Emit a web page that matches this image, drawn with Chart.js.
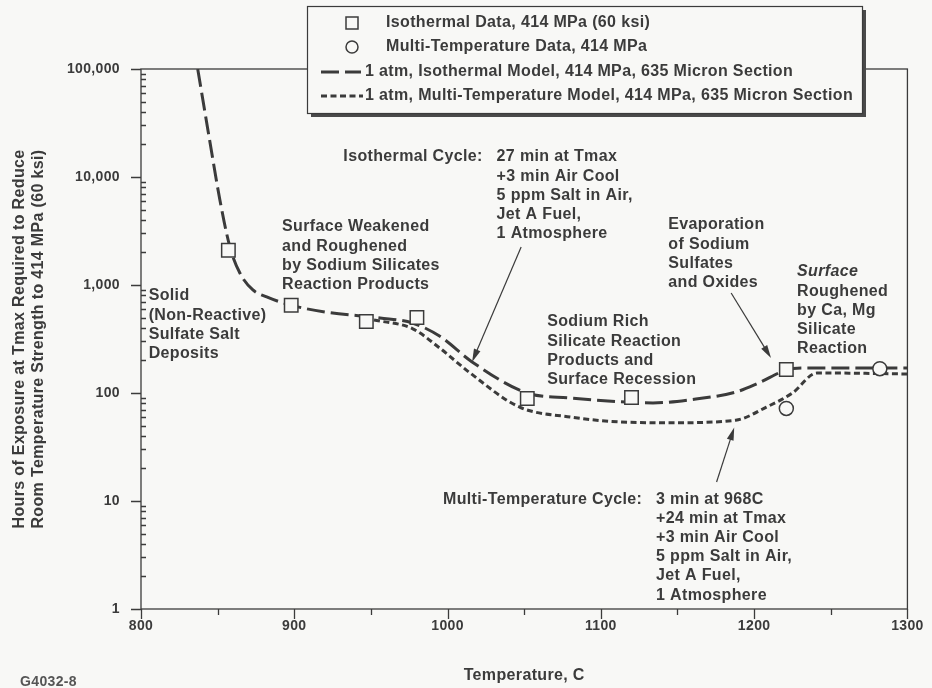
<!DOCTYPE html>
<html>
<head>
<meta charset="utf-8">
<script src="https://cdn.jsdelivr.net/npm/chart.js@4.4.1/dist/chart.umd.min.js"></script>
<style>
  html, body { margin: 0; padding: 0; background: #f8f8f6; }
  #wrap { width: 932px; height: 688px; position: relative; }
</style>
</head>
<body>
<div id="wrap"><canvas id="lifeChart"></canvas></div>
<script>
// Test points, hours to reduce strength to 414 MPa
const isoDataTemps = [857, 898, 947, 980, 1052, 1120, 1221];
const isoDataHours = [2100, 650, 460, 500, 89, 91, 165];
const multiDataTemps = [1221, 1282];
const multiDataHours = [72, 168];

// Model curves (1 atm, 635 micron section)
const isoModelTemps = [837, 845, 851.5, 858, 864.5, 873, 882, 897, 921, 956, 977, 995, 1016, 1052, 1080, 1112, 1134, 1162, 1188, 1203, 1221, 1232, 1300];
const isoModelHours = [100000, 21000, 6100, 2250, 1290, 900, 775, 655, 560, 495, 445, 335, 194, 100, 90, 83, 81, 88, 102, 124, 163, 170, 170];
const multiModelTemps = [952, 977, 995, 1014, 1047, 1080, 1112, 1145, 1188, 1208, 1225, 1241, 1251, 1300];
const multiModelHours = [475, 395, 260, 156, 74, 60, 54, 53, 56, 74, 100, 153, 153, 150];

// Axis ticks
const xTicks = [800, 900, 1000, 1100, 1200, 1300];
const xTickLabels = ['800', '900', '1000', '1100', '1200', '1300'];
const yTicks = [1, 10, 100, 1000, 10000, 100000];
const yTickLabels = ['1', '10', '100', '1,000', '10,000', '100,000'];

const ink = '#3b3b3b';
const paper = '#f8f8f6';
const family = "'Liberation Sans', Arial, Helvetica, sans-serif";
const lineGap = 19.2;

// Text notes, anchored at [temperature, hours]
const notes = [
  { at: [805, 790], lines: ['Solid', '(Non-Reactive)', 'Sulfate Salt', 'Deposits'] },
  { at: [892, 3440], lines: ['Surface Weakened', 'and Roughened', 'by Sodium Silicates', 'Reaction Products'] },
  { at: [932, 15300], lines: ['Isothermal Cycle:'] },
  { at: [1032, 15300], lines: ['27 min at Tmax', '+3 min Air Cool', '5 ppm Salt in Air,', 'Jet A Fuel,', '1 Atmosphere'] },
  { at: [1065, 454], lines: ['Sodium Rich', 'Silicate Reaction', 'Products and', 'Surface Recession'] },
  { at: [1144, 3590], lines: ['Evaporation', 'of Sodium', 'Sulfates', 'and Oxides'] },
  { at: [1228, 1320], lines: ['Surface', 'Roughened', 'by Ca, Mg', 'Silicate', 'Reaction'], italic: [0] },
  { at: [997, 10.4], lines: ['Multi-Temperature Cycle:'] },
  { at: [1136, 10.4], lines: ['3 min at 968C', '+24 min at Tmax', '+3 min Air Cool', '5 ppm Salt in Air,', 'Jet A Fuel,', '1 Atmosphere'] }
];

const arrows = [
  { from: [1048, 2250], to: [1016, 194] },
  { from: [1185, 843], to: [1211, 211] },
  { from: [1175.5, 15], to: [1187, 48] }
];

function xy(temps, hours) {
  return temps.map((t, i) => ({ x: t, y: hours[i] }));
}

const isoDash = [18, 6];
const multiDash = [6, 3.5];

// background; the lettering in this figure runs a little wide
const paperPlugin = {
  id: 'paper',
  beforeDraw(chart) {
    const c = chart.ctx;
    c.save();
    c.fillStyle = paper;
    c.fillRect(0, 0, chart.width, chart.height);
    c.restore();
    c.letterSpacing = '0.35px';
  }
};

// plot frame and tick marks
const framePlugin = {
  id: 'frame',
  beforeDatasetsDraw(chart) {
    const c = chart.ctx;
    const a = chart.chartArea;
    const xs = chart.scales.x, ys = chart.scales.y;
    c.save();
    c.strokeStyle = ink;
    c.lineWidth = 1.3;
    c.strokeRect(a.left, a.top, a.right - a.left, a.bottom - a.top);
    c.beginPath();
    for (let t = 800; t <= 1300; t += 50) {
      const px = Math.round(xs.getPixelForValue(t)) + 0.5;
      c.moveTo(px, a.bottom);
      c.lineTo(px, a.bottom + (t % 100 === 0 ? 10 : 6));
    }
    for (let d = 0; d < 5; d++) {
      for (let m = 1; m <= 9; m++) {
        const py = Math.round(ys.getPixelForValue(m * Math.pow(10, d))) + 0.5;
        if (m === 1) {
          c.moveTo(a.left - 10, py); c.lineTo(a.left, py);
        } else {
          c.moveTo(a.left, py); c.lineTo(a.left + 5, py);
        }
      }
    }
    const topY = Math.round(ys.getPixelForValue(100000)) + 0.5;
    c.moveTo(a.left - 10, topY); c.lineTo(a.left, topY);
    c.stroke();
    c.restore();
  }
};

function drawArrow(c, x1, y1, x2, y2) {
  const ang = Math.atan2(y2 - y1, x2 - x1);
  const len = 13, half = 3.5;
  c.beginPath();
  c.moveTo(x1, y1);
  c.lineTo(x2 - Math.cos(ang) * len * 0.8, y2 - Math.sin(ang) * len * 0.8);
  c.stroke();
  c.beginPath();
  c.moveTo(x2, y2);
  c.lineTo(x2 - Math.cos(ang) * len - Math.sin(ang) * half, y2 - Math.sin(ang) * len + Math.cos(ang) * half);
  c.lineTo(x2 - Math.cos(ang) * len + Math.sin(ang) * half, y2 - Math.sin(ang) * len - Math.cos(ang) * half);
  c.closePath();
  c.fill();
}

// notes, arrows, boxed key and drawing number
const notesPlugin = {
  id: 'notes',
  afterDraw(chart) {
    const c = chart.ctx;
    const xs = chart.scales.x, ys = chart.scales.y;
    c.save();
    c.fillStyle = ink;
    c.strokeStyle = ink;
    c.textAlign = 'left';
    c.textBaseline = 'middle';
    notes.forEach(n => {
      const x0 = xs.getPixelForValue(n.at[0]);
      const y0 = ys.getPixelForValue(n.at[1]);
      n.lines.forEach((txt, i) => {
        const it = n.italic && n.italic.includes(i) ? 'italic ' : '';
        c.font = it + 'bold 16px ' + family;
        c.fillText(txt, x0, y0 + i * lineGap);
      });
    });

    c.lineWidth = 1.2;
    arrows.forEach(ar => {
      drawArrow(c,
        xs.getPixelForValue(ar.from[0]), ys.getPixelForValue(ar.from[1]),
        xs.getPixelForValue(ar.to[0]), ys.getPixelForValue(ar.to[1]));
    });

    // key box with drop shadow
    const bx = 307, by = 6, bw = 555, bh = 107;
    c.fillStyle = '#4a4a4a';
    c.fillRect(bx + 4, by + 4, bw, bh);
    c.fillStyle = paper;
    c.fillRect(bx, by, bw, bh);
    c.lineWidth = 1.2;
    c.strokeRect(bx + 0.5, by + 0.5, bw, bh);

    const ds = chart.data.datasets;
    const rows = [23, 47, 72, 96];
    c.font = 'bold 16px ' + family;
    // square and circle markers
    c.lineWidth = 1.5;
    c.fillStyle = paper;
    c.fillRect(346, rows[0] - 6, 12, 12);
    c.strokeRect(346, rows[0] - 6, 12, 12);
    c.beginPath();
    c.arc(352, rows[1], 6, 0, Math.PI * 2);
    c.fill();
    c.stroke();
    // line symbols
    c.lineWidth = 3;
    c.setLineDash(isoDash);
    c.beginPath(); c.moveTo(321, rows[2]); c.lineTo(361, rows[2]); c.stroke();
    c.setLineDash(multiDash);
    c.beginPath(); c.moveTo(321, rows[3]); c.lineTo(363, rows[3]); c.stroke();
    c.setLineDash([]);
    c.fillStyle = ink;
    c.fillText(ds[0].label, 386, rows[0]);
    c.fillText(ds[1].label, 386, rows[1]);
    c.fillText(ds[2].label, 365, rows[2]);
    c.fillText(ds[3].label, 365, rows[3]);

    c.font = 'bold 14px ' + family;
    c.fillStyle = '#555';
    c.fillText('G4032-8', 20, 682);
    c.restore();
  }
};

const ctx = document.getElementById('lifeChart').getContext('2d');
const lifeChart = new Chart(ctx, {
  type: 'scatter',
  data: {
    datasets: [
      {
        label: 'Isothermal Data, 414 MPa (60 ksi)',
        data: xy(isoDataTemps, isoDataHours),
        pointStyle: 'rect',
        pointRadius: 9.5,
        pointHoverRadius: 9.5,
        borderColor: ink,
        backgroundColor: paper,
        borderWidth: 1.5
      },
      {
        label: 'Multi-Temperature Data, 414 MPa',
        data: xy(multiDataTemps, multiDataHours),
        pointStyle: 'circle',
        pointRadius: 7,
        pointHoverRadius: 7,
        borderColor: ink,
        backgroundColor: paper,
        borderWidth: 1.5
      },
      {
        label: '1 atm, Isothermal Model, 414 MPa, 635 Micron Section',
        data: xy(isoModelTemps, isoModelHours),
        showLine: true,
        pointRadius: 0,
        pointHoverRadius: 0,
        borderColor: ink,
        borderWidth: 3,
        borderDash: isoDash,
        cubicInterpolationMode: 'monotone',
        fill: false
      },
      {
        label: '1 atm, Multi-Temperature Model, 414 MPa, 635 Micron Section',
        data: xy(multiModelTemps, multiModelHours),
        showLine: true,
        pointRadius: 0,
        pointHoverRadius: 0,
        borderColor: ink,
        borderWidth: 3,
        borderDash: multiDash,
        cubicInterpolationMode: 'monotone',
        fill: false
      }
    ]
  },
  options: {
    responsive: true,
    maintainAspectRatio: false,
    animation: false,
    layout: { padding: { top: 69, right: 24, bottom: 0, left: 0 } },
    plugins: {
      legend: { display: false },
      tooltip: { enabled: false }
    },
    scales: {
      x: {
        type: 'linear',
        min: 800,
        max: 1300,
        afterFit: s => { s.height = 79; },
        afterBuildTicks: s => { s.ticks = xTicks.map(v => ({ value: v })); },
        grid: { display: false, drawTicks: false },
        border: { display: false },
        ticks: {
          padding: 9,
          color: ink,
          autoSkip: false,
          maxRotation: 0,
          font: { family: family, size: 14, weight: 'bold' },
          callback: (v, i) => xTickLabels[i]
        },
        title: {
          display: true,
          text: 'Temperature, C',
          color: ink,
          font: { family: family, size: 16, weight: 'bold' },
          padding: { top: 0, bottom: 3 }
        }
      },
      y: {
        type: 'logarithmic',
        min: 1,
        max: 100000,
        afterFit: s => { s.width = 141; },
        afterBuildTicks: s => { s.ticks = yTicks.map(v => ({ value: v })); },
        grid: { display: false, drawTicks: false },
        border: { display: false },
        ticks: {
          padding: 21,
          color: ink,
          autoSkip: false,
          font: { family: family, size: 14, weight: 'bold' },
          callback: (v, i) => yTickLabels[i]
        },
        title: {
          display: true,
          text: ['Hours of Exposure at Tmax Required to Reduce', 'Room Temperature Strength to 414 MPa (60 ksi)'],
          color: ink,
          font: { family: family, size: 16, weight: 'bold' },
          padding: { top: 10, bottom: 0 }
        }
      }
    }
  },
  plugins: [paperPlugin, framePlugin, notesPlugin]
});
</script>
</body>
</html>
